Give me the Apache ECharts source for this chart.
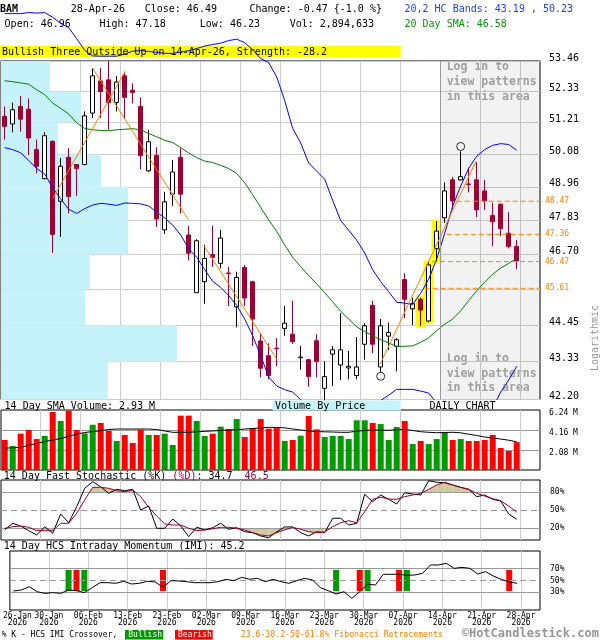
<!DOCTYPE html>
<html><head><meta charset="utf-8">
<script src="https://cdn.jsdelivr.net/npm/echarts@6.0.0/dist/echarts.min.js"></script>
<style>html,body{margin:0;padding:0;background:#fff}#c{width:600px;height:640px}</style>
</head><body><div id="c"></div>
<script>
// ---------------- DATA ----------------
const ticker = 'BAM';
const lastDate = '28-Apr-26';
const patternText = 'Bullish Three Outside Up on 14-Apr-26, Strength: -28.2';
const yearLabel = '2026';
const dateLabels = ['26-Jan','30-Jan','06-Feb','13-Feb','23-Feb','02-Mar','09-Mar','16-Mar','23-Mar','30-Mar','07-Apr','14-Apr','21-Apr','28-Apr'];
const dateLabelIdx = [0,4,9,14,19,24,29,34,39,44,49,54,59,64];

const opens  = [51.43,51.16,51.79,51.69,50.25,49.24,50.54,48.47,49.98,49.73,49.73,51.55,52.72,52.76,51.93,52.91,52.38,51.79,49.51,50.05,47.51,48.71,49.98,47.34,45.47,45.82,46.70,46.41,46.10,45.02,46.28,45.82,43.96,43.51,43.74,44.35,44.17,43.45,43.39,43.97,42.53,43.56,43.23,43.14,42.91,43.86,45.07,43.17,44.11,43.80,45.89,44.96,45.26,44.58,46.89,47.91,49.20,49.20,49.06,49.20,48.82,47.99,48.37,47.40,46.96];
const highs  = [51.79,51.93,52.17,52.08,50.60,50.86,50.58,49.95,50.30,49.75,51.61,53.19,53.19,53.45,52.91,53.06,52.63,52.12,50.95,50.33,48.79,49.89,50.30,47.64,47.20,47.02,47.64,47.51,46.30,46.14,46.36,45.85,44.20,43.89,44.05,45.05,45.21,43.81,43.42,44.17,43.34,43.80,44.82,43.66,44.08,44.51,45.21,44.64,44.53,44.05,46.09,45.31,45.31,46.46,47.80,49.11,49.30,50.19,49.62,49.81,49.20,48.42,48.40,48.10,47.18];
const lows   = [50.60,50.86,50.88,50.06,49.43,49.22,46.75,47.28,48.06,48.65,49.70,51.37,51.37,50.95,51.61,51.37,51.90,49.56,49.48,47.61,47.37,48.31,48.06,46.51,45.47,45.12,46.30,46.25,45.05,44.38,45.05,43.81,42.86,42.80,43.19,44.12,43.87,43.09,42.58,42.86,42.18,42.60,42.78,42.80,42.80,43.39,43.59,43.00,43.69,43.04,44.67,44.45,44.42,44.54,46.46,47.74,48.20,49.18,48.77,47.94,48.18,46.97,47.31,46.90,46.23];
const closes = [51.07,51.67,51.33,50.66,49.67,50.74,47.36,49.67,48.63,49.59,51.45,52.91,52.33,51.93,52.68,52.12,52.30,50.04,50.53,47.87,48.45,49.47,48.71,46.74,47.15,46.57,46.60,47.24,46.08,45.96,45.30,44.64,43.13,42.91,43.72,44.51,43.94,43.47,42.88,43.34,42.88,43.69,43.69,43.19,43.17,44.43,43.86,44.43,44.22,44.00,45.26,45.12,44.92,46.36,47.47,48.82,48.48,49.31,49.04,48.18,48.48,47.78,47.55,46.96,46.49];

const sma20 = [52.73,52.69,52.65,52.60,52.40,52.22,51.91,51.72,51.52,51.20,51.00,50.95,50.93,50.92,50.95,50.97,50.99,50.95,50.82,50.70,50.58,50.50,50.32,50.13,49.97,49.85,49.80,49.70,49.59,49.42,49.10,48.69,48.26,47.84,47.46,47.01,46.61,46.30,46.02,45.75,45.47,45.18,44.88,44.64,44.40,44.25,44.12,44.00,43.90,43.79,43.80,43.81,43.92,44.06,44.28,44.48,44.64,44.90,45.22,45.53,45.81,46.06,46.26,46.41,46.58];
const upperBand = [55.26,55.26,55.26,55.30,55.28,55.30,55.12,54.88,54.72,54.30,53.86,53.65,53.64,53.64,53.64,53.72,53.83,53.85,53.82,53.78,53.75,53.74,53.80,53.84,53.93,54.02,54.08,54.13,54.23,54.28,54.15,53.88,53.55,53.40,52.87,52.00,51.00,50.48,49.78,49.50,49.22,48.50,47.82,47.50,47.17,46.75,46.20,45.82,45.50,45.17,45.14,45.10,45.45,45.90,46.55,47.40,48.30,48.99,49.60,50.02,50.25,50.40,50.46,50.43,50.23];
const lowerBand = [50.32,50.25,50.14,49.87,49.59,49.40,48.93,48.55,48.20,48.06,48.22,48.34,48.40,48.37,48.33,48.41,48.40,48.38,48.31,48.10,47.91,47.67,47.34,46.89,46.61,46.21,45.83,45.64,45.38,45.07,44.64,44.12,43.51,42.87,42.60,42.49,42.42,42.19,42.05,41.95,41.90,41.90,41.92,41.95,42.00,42.05,42.10,42.17,42.33,42.50,42.50,42.50,42.45,42.39,42.10,41.90,41.70,41.55,41.50,41.55,41.70,41.95,42.42,42.78,43.19];

const priceTicks  = [53.46,52.33,51.21,50.08,48.96,47.83,46.70,45.57,44.45,43.33,42.20];
const priceLabels = [53.46,52.33,51.21,50.08,48.96,47.83,46.70,44.45,43.33,42.20];

const vbpEdges = [53.46,52.33,51.21,50.08,48.96,47.83,46.70,45.57,44.45,43.33,42.20];
const vbpVolume = [4.9,8.0,5.7,10.0,12.7,12.7,8.9,8.4,17.6,10.7];

const trendLines = [
  [[6.0,48.56],[15.04,53.07]],
  [[11.0,53.19],[22.95,47.85]],
  [[24.9,46.99],[34.0,43.41]],
  [[46.9,43.24],[58.9,49.84]]
];
const fibLevels = [48.47,47.36,46.47,45.61];
const fibStartIdx = [56.5,55.25,53.4,52.5];
const patternIdx = [52,53,54];
const pivotCircles = [[57,50.36],[47,42.89]];
const loginFromIdx = 54.5;

const volumes = [3.12,2.50,3.78,4.16,3.22,3.54,6.03,5.10,6.17,4.16,3.81,4.71,4.89,4.06,3.02,3.64,2.81,4.19,3.64,3.64,3.78,2.60,5.65,5.65,5.10,3.54,3.78,4.51,4.26,5.30,3.43,4.37,5.30,4.30,4.40,3.02,3.12,3.57,5.62,4.23,3.43,3.54,3.54,3.22,5.17,5.17,4.89,4.78,3.12,4.47,5.10,2.70,3.02,2.70,3.22,3.95,3.12,3.22,3.02,3.02,3.12,3.64,2.29,1.98,2.894633];
const volSma = [2.27,2.31,2.36,2.57,2.76,2.96,3.12,3.28,3.50,3.74,3.90,4.00,4.09,4.21,4.26,4.26,4.26,4.26,4.26,4.21,4.06,3.92,3.92,3.92,3.97,4.02,4.06,4.11,4.16,4.18,4.26,4.32,4.37,4.44,4.42,4.39,4.26,4.16,4.06,4.00,3.97,3.95,3.92,3.92,4.04,4.11,4.16,4.14,4.13,4.18,4.23,4.11,3.98,3.92,3.88,3.90,3.92,3.87,3.72,3.59,3.43,3.33,3.22,3.10,2.93];
const volTicks = [2.08,4.16,6.24];

const stochK = [16.7,27.8,23.3,15.5,8.3,22.2,11.2,43.3,28.8,55.5,86.2,97.2,88.8,77.8,84.5,82.2,84.5,50.0,56.7,19.5,19.5,35.0,23.8,5.5,21.2,16.7,20.5,27.8,17.8,20.5,13.8,12.2,6.7,3.8,13.8,21.7,21.7,12.2,6.7,13.8,12.2,36.2,36.2,25.0,27.8,76.2,63.8,75.0,67.8,60.0,78.8,76.7,75.0,98.8,96.2,95.5,91.7,87.8,84.5,72.2,75.0,67.8,65.0,43.3,34.7];
const stochD = [19.5,22.2,23.3,21.2,15.5,15.5,15.5,27.8,27.8,44.5,66.7,87.8,87.8,86.2,82.2,80.5,83.3,72.2,54.5,40.0,26.7,25.0,25.0,19.5,15.5,16.7,18.8,21.2,21.2,19.5,16.7,12.2,8.3,6.7,12.2,16.7,21.2,17.8,13.8,12.2,13.3,22.2,28.8,32.2,28.8,47.2,67.8,71.2,68.3,67.8,72.2,75.0,77.8,84.5,91.7,96.2,91.7,87.8,84.5,77.8,73.3,68.8,65.5,56.7,46.5];
const stochTicks = [20,50,80];

const imi = [32.2,33.9,39.5,31.0,28.2,29.4,28.2,33.9,32.8,29.4,37.8,46.3,46.3,45.2,48.6,44.1,45.2,48.6,47.5,38.4,49.7,49.2,48.0,46.3,46.3,46.3,48.0,52.0,49.7,55.4,52.0,53.7,48.0,52.0,48.0,45.2,49.7,53.7,50.8,37.8,32.7,27.1,31.0,19.8,31.0,43.6,42.4,60.5,60.5,60.5,58.8,59.3,62.2,76.3,76.3,79.1,70.6,72.3,70.6,61.0,65.0,57.6,52.0,47.5,45.2];
const imiTicks = [30,50,70];
const bullishCross = [7,9,41,45,50];
const bearishCross = [8,19,44,49,63];

// ---------------- BUILD ----------------
const F = 'DejaVu Sans Mono';
const L = Math.log;
const N = closes.length;
const XMIN = -0.4625, XMAX = 66.9125;
const RED = '#990033', UP = '#009900', DN = '#ff0000', ORANGE = '#ff8000', KHAKI = '#cfc99b';
const gridLineIdx = dateLabelIdx.slice(1).map(i => i + 0.5);
const idx = closes.map((_, i) => i);

function xAxis(g, withLabels) {
  const ax = {type:'value', gridIndex:g, min:XMIN, max:XMAX,
    axisLine:{show:false}, axisTick:{show:false, customValues:gridLineIdx},
    splitLine:{show:true, lineStyle:{color:'#cccccc', width:1}},
    axisLabel:{show:false}};
  if (withLabels) {
    ax.axisLabel = {show:true, customValues: dateLabelIdx.map(i => i + 0.5),
      formatter: v => { const k = dateLabelIdx.indexOf(Math.round(v - 0.5)); return (k >= 0 ? dateLabels[k] : '') + '\n' + yearLabel; },
      fontFamily:F, fontSize:8, lineHeight:7.5, color:'#000', margin:2};
  }
  return ax;
}

function line(xi, yi, data, color, extra) {
  return Object.assign({type:'line', xAxisIndex:xi, yAxisIndex:yi, data, symbol:'none', showSymbol:false,
    lineStyle:{color, width:1}, silent:true, z:4, animation:false}, extra || {});
}

function txt(x, y, text, opt) {
  return {type:'text', x, y, silent:true, style:Object.assign({text, font:'10px "' + F + '"', fill:'#000', align:'left', verticalAlign:'middle'}, opt || {})};
}
function rect(x, y, w, h, fill) {
  return {type:'rect', silent:true, shape:{x, y, width:w, height:h}, style:{fill}};
}

const close = closes[N-1], prev = closes[N-2];
const chg = close - prev, pct = chg / prev * 100;
const CW = 6.02; // char width of 10px mono

const series = [];

// volume by price
series.push({type:'custom', xAxisIndex:4, yAxisIndex:0, silent:true, z:1,
  data: vbpVolume.map((v, k) => [v, L(vbpEdges[k+1]), L(vbpEdges[k])]),
  encode:{x:0, y:[1,2]},
  renderItem:(p, api) => {
    const a = api.coord([0, api.value(2)]), b = api.coord([api.value(0), api.value(1)]);
    return {type:'rect', shape:{x:a[0], y:a[1], width:b[0]-a[0], height:b[1]-a[1]}, style:{fill:'#c6f2f9'}};
  }});

// login area
series.push({type:'line', xAxisIndex:0, yAxisIndex:0, data:[[loginFromIdx, L(48)]], symbol:'none', silent:true, z:1,
  lineStyle:{width:0},
  markArea:{silent:true, itemStyle:{color:'rgba(0,0,0,0.05)'},
    data:[[{xAxis:loginFromIdx, yAxis:L(priceTicks[priceTicks.length-1])},{xAxis:XMAX, yAxis:L(priceTicks[0])}]]},
  markLine:{silent:true, symbol:['none','none'], label:{show:false}, lineStyle:{color:'#999', width:1, type:'solid'},
    data:[{xAxis:loginFromIdx}]}});

// pattern highlight
series.push({type:'custom', xAxisIndex:0, yAxisIndex:0, silent:true, z:2,
  data: patternIdx.map(i => [i, L(highs[i]), L(lows[i])]),
  encode:{x:0, y:[1,2]},
  renderItem:(p, api) => {
    const a = api.coord([api.value(0), api.value(1)]), b = api.coord([api.value(0), api.value(2)]);
    return {type:'rect', shape:{x:a[0]-5.35, y:a[1]-1.5, width:10.7, height:b[1]-a[1]+3}, style:{fill:'#ffff00'}};
  }});

// candles
series.push({type:'candlestick', xAxisIndex:0, yAxisIndex:0, silent:true, z:3, barWidth:5,
  data: idx.map(i => [i, L(opens[i]), L(closes[i]), L(lows[i]), L(highs[i])]),
  encode:{x:0, y:[1,2,3,4]},
  itemStyle:{color:'#ffffff', color0:RED, borderColor:'#000000', borderColor0:RED, borderWidth:1}});

// overlays
series.push(line(0,0, idx.map(i => [i, L(sma20[i])]), '#008000'));
series.push(line(0,0, idx.map(i => [i, L(upperBand[i])]), '#0000ff', {clip:false}));
series.push(line(0,0, idx.map(i => [i, L(lowerBand[i])]), '#0000ff'));
trendLines.forEach(t => series.push(line(0,0, t.map(([x, p]) => [x, L(p)]), ORANGE)));
fibLevels.forEach((lv, k) => series.push(line(0,0, [[fibStartIdx[k], L(lv)],[XMAX, L(lv)]], ORANGE, {
  lineStyle:{color:ORANGE, width:1, type:[5,3]},
  endLabel:{show:true, formatter:() => lv.toFixed(2), color:ORANGE, fontFamily:F, fontSize:8, distance:5}})));
series.push({type:'scatter', xAxisIndex:0, yAxisIndex:0, silent:true, z:5, symbol:'circle', symbolSize:8,
  data: pivotCircles.map(([i, p]) => [i, L(p)]),
  itemStyle:{color:'rgba(255,255,255,0)', borderColor:'#000', borderWidth:1}});

// volume
series.push({type:'bar', xAxisIndex:1, yAxisIndex:1, silent:true, barWidth:6, z:2,
  data: idx.map(i => ({value:[i, volumes[i]], itemStyle:{color: closes[i] >= opens[i] ? UP : DN}}))});
series.push(line(1,1, idx.map(i => [i, volSma[i]]), '#000'));

// stochastic shading between %D and the 80 / 20 thresholds
function shade(t, above) {
  return {type:'custom', xAxisIndex:2, yAxisIndex:2, silent:true, z:2,
    data: idx.slice(0, -1).map(i => [i, stochD[i]]), encode:{x:0, y:1},
    renderItem:(p, api) => {
      const i = api.value(0), v0 = stochD[i], v1 = stochD[i+1];
      const a = above ? v0 - t : t - v0, b = above ? v1 - t : t - v1;
      let pts;
      if (a <= 0 && b <= 0) return null;
      if (a >= 0 && b >= 0) pts = [[i,t],[i,v0],[i+1,v1],[i+1,t]];
      else { const xc = i + a / (a - b); pts = a > 0 ? [[i,t],[i,v0],[xc,t]] : [[xc,t],[i+1,v1],[i+1,t]]; }
      return {type:'polygon', shape:{points: pts.map(q => api.coord(q))}, style:{fill:KHAKI}};
    }};
}
series.push(shade(stochTicks[2], true));
series.push(shade(stochTicks[0], false));
series.push(line(2,2, idx.map(i => [i, stochK[i]]), '#000', {z:5,
  markLine:{silent:true, symbol:['none','none'], label:{show:false}, lineStyle:{color:'#999', width:1, type:'solid'},
    data:[{yAxis:stochTicks[0]},{yAxis:stochTicks[2]},{yAxis:stochTicks[1], lineStyle:{color:'#999', width:1, type:[6,4]}}]}}));
series.push(line(2,2, idx.map(i => [i, stochD[i]]), RED, {z:5}));

// IMI
function crossBars(list, color) {
  return {type:'custom', xAxisIndex:3, yAxisIndex:3, silent:true, z:2,
    data: list.map(i => [i, imi[i]]), encode:{x:0, y:1},
    renderItem:(p, api) => {
      const a = api.coord([api.value(0), 68]), b = api.coord([api.value(0), 32]);
      return {type:'rect', shape:{x:a[0]-3, y:a[1], width:6, height:b[1]-a[1]}, style:{fill:color}};
    }};
}
series.push(crossBars(bullishCross, UP));
series.push(crossBars(bearishCross, DN));
series.push(line(3,3, idx.map(i => [i, imi[i]]), '#000', {z:5,
  markLine:{silent:true, symbol:['none','none'], label:{show:false}, lineStyle:{color:'#999', width:1, type:'solid'},
    data:[{yAxis:imiTicks[0]},{yAxis:imiTicks[2]},{yAxis:imiTicks[1], lineStyle:{color:'#999', width:1, type:[6,4]}}]}}));

const gridBox = {show:true, borderColor:'#000', borderWidth:1, backgroundColor:'transparent', containLabel:false};
const fmtP = v => v.toFixed(2);
const loginFont = 'bold 11.5px "' + F + '"';

const graphic = [
  txt(0, 9.3, ticker, {font:'bold 10px "' + F + '"'}),
  txt(70.8, 9.3, lastDate),
  txt(144.7, 9.3, 'Close: ' + fmtP(close)),
  txt(249.5, 9.3, 'Change: ' + chg.toFixed(2) + ' {' + pct.toFixed(1) + ' %}'),
  txt(4.6, 24, 'Open: ' + fmtP(opens[N-1])),
  txt(99.5, 24, 'High: ' + fmtP(highs[N-1])),
  txt(199.8, 24, 'Low: ' + fmtP(lows[N-1])),
  txt(289.7, 24, 'Vol: ' + Math.round(volumes[N-1]*1e6).toLocaleString('en-US')),
  txt(404.5, 9.3, '20,2 HC Bands: ' + fmtP(lowerBand[N-1]) + ' , ' + fmtP(upperBand[N-1]), {fill:'#1f3cff'}),
  txt(404.5, 24, '20 Day SMA: ' + fmtP(sma20[N-1]), {fill:'#009900'}),
  rect(0, 45.7, 400.7, 11.6, '#ffff00'),
  txt(2, 52, patternText),
  txt(446.7, 67.3, 'Log in to', {font:loginFont, fill:'#a8a8a8'}),
  txt(446.7, 82.3, 'view patterns', {font:loginFont, fill:'#a8a8a8'}),
  txt(446.7, 97.3, 'in this area', {font:loginFont, fill:'#a8a8a8'}),
  txt(446.7, 359, 'Log in to', {font:loginFont, fill:'#a8a8a8'}),
  txt(446.7, 374, 'view patterns', {font:loginFont, fill:'#a8a8a8'}),
  txt(446.7, 388.3, 'in this area', {font:loginFont, fill:'#a8a8a8'}),
  {type:'text', x:595, y:338, rotation:Math.PI/2, silent:true, style:{text:'Logarithmic', font:'10px "' + F + '"', fill:'#999', align:'center', verticalAlign:'middle'}},
  txt(4.6, 406, '14 Day SMA Volume: ' + volSma[N-1].toFixed(2) + ' M'),
  rect(272.5, 400.5, 128.2, 10, '#c6f2f9'),
  txt(275, 406, 'Volume By Price'),
  txt(429.4, 406, 'DAILY CHART'),
  txt(3.8, 476, '14 Day Fast Stochastic (%K) '),
  txt(3.8 + 28*CW, 476, '(%D)', {fill:RED}),
  txt(3.8 + 32*CW, 476, ': ' + stochK[N-1].toFixed(1) + '  '),
  txt(3.8 + 40*CW, 476, stochD[N-1].toFixed(1), {fill:RED}),
  txt(3.8, 546, '14 Day HCS Intraday Momentum (IMI): ' + imi[N-1].toFixed(1)),
  txt(1.7, 635, '% K - HCS IMI Crossover,', {font:'8px "' + F + '"'}),
  rect(125, 630, 38.3, 9.5, UP),
  txt(128.3, 635, 'Bullish', {font:'8px "' + F + '"', fill:'#fff'}),
  rect(175, 630, 37.7, 9.5, DN),
  txt(178, 635, 'Bearish', {font:'8px "' + F + '"', fill:'#fff'}),
  txt(240.7, 635, '23.6-38.2-50-61.8% Fibonacci Retracements', {font:'8.2px "' + F + '"', fill:ORANGE}),
  txt(461.7, 634, '\u00A9HotCandlestick.com', {font:'bold 12px "' + F + '"', fill:'#969696'})
];

const option = {
  animation:false,
  backgroundColor:'#fff',
  grid:[
    Object.assign({left:1, top:61, width:539, height:338.5}, gridBox),
    Object.assign({left:1, top:410, width:539, height:60}, gridBox),
    Object.assign({left:1, top:480, width:539, height:60}, gridBox),
    Object.assign({left:1, top:551, width:539, height:59}, gridBox)
  ],
  xAxis:[
    xAxis(0,false), xAxis(1,false), xAxis(2,false), xAxis(3,true),
    {type:'value', gridIndex:0, min:0, max:53.9, show:false}
  ],
  yAxis:[
    {type:'value', gridIndex:0, position:'right', min:L(priceTicks[priceTicks.length-1]), max:L(priceTicks[0]),
      axisLine:{show:false}, axisTick:{show:false, customValues:priceTicks.map(L)},
      splitLine:{show:true, lineStyle:{color:'#cccccc', width:1}},
      axisLabel:{customValues:priceLabels.map(L), formatter:v => Math.exp(v).toFixed(2), margin:9,
        fontFamily:F, fontSize:10, color:'#000', verticalAlign:'bottom', lineHeight:6}},
    {type:'value', gridIndex:1, position:'right', min:0, max:volTicks[2],
      axisLine:{show:false}, axisTick:{show:false, customValues:volTicks.slice(0,2)},
      splitLine:{show:true, lineStyle:{color:'#999', width:1}},
      axisLabel:{customValues:volTicks, formatter:v => v.toFixed(2) + ' M', margin:9, fontFamily:F, fontSize:8, color:'#000', verticalAlign:'top', lineHeight:5}},
    {type:'value', gridIndex:2, position:'right', min:0, max:100,
      axisLine:{show:false}, axisTick:{show:false}, splitLine:{show:false},
      axisLabel:{customValues:stochTicks, formatter:v => v + '%', margin:10, fontFamily:F, fontSize:8, color:'#000'}},
    {type:'value', gridIndex:3, position:'right', min:0, max:100,
      axisLine:{show:false}, axisTick:{show:false}, splitLine:{show:false},
      axisLabel:{customValues:imiTicks, formatter:v => v + '%', margin:10, fontFamily:F, fontSize:8, color:'#000'}}
  ],
  graphic,
  series
};

const chart = echarts.init(document.getElementById('c'), null, {renderer:'canvas', width:600, height:640});
chart.setOption(option);
</script>
</body></html>
